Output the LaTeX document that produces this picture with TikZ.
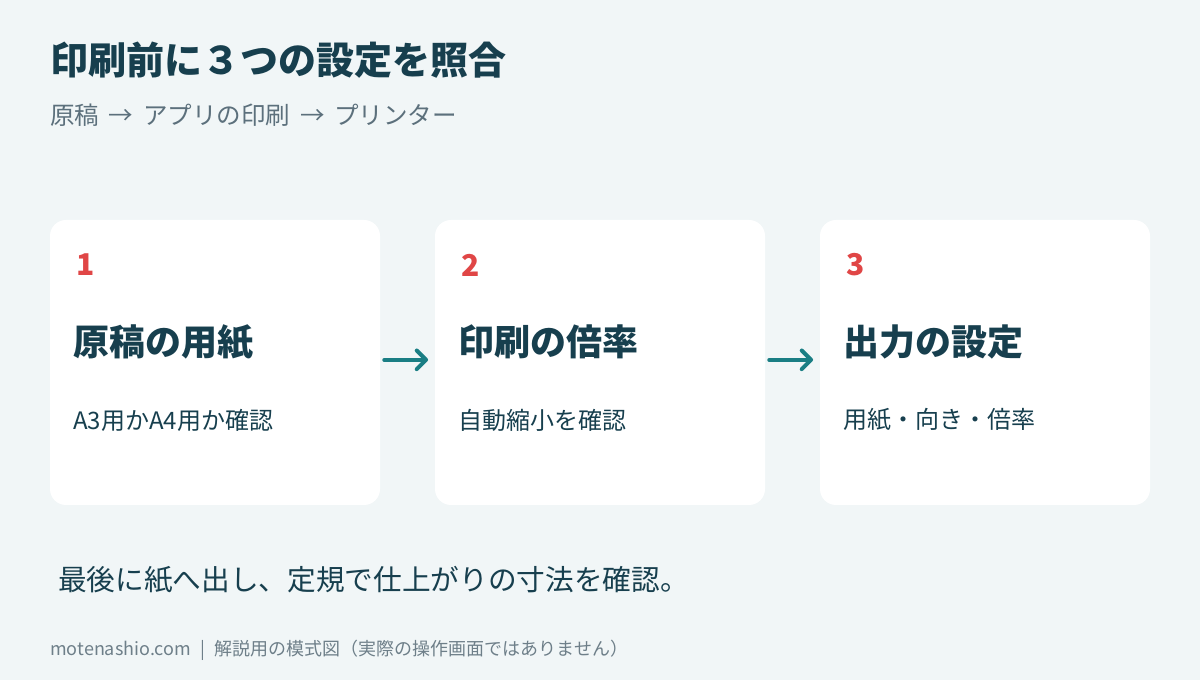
\documentclass[tikz,border=0pt]{standalone}
\usepackage{fontspec}
\setmainfont{Noto Sans CJK JP}
\usetikzlibrary{arrows.meta}

\definecolor{bgpaper}{HTML}{F1F6F7}
\definecolor{inkdark}{HTML}{173F4E}
\definecolor{inkgray}{HTML}{5C707C}
\definecolor{footgray}{HTML}{6E7F89}
\definecolor{numred}{HTML}{E04646}
\definecolor{flowteal}{HTML}{1A7E84}

\tikzset{
    card/.style={fill=white, rounded corners=12pt, minimum width=247.5pt, minimum height=213.75pt, inner sep=0pt},
    txt/.style={anchor=west, inner sep=0pt, text=inkdark},
    numlabel/.style={txt, text=numred, font=\bfseries\fontsize{22.5}{26}\selectfont},
    headlabel/.style={txt, font=\bfseries\fontsize{27}{31}\selectfont},
    desclabel/.style={txt, font=\fontsize{18}{22}\selectfont},
    flowarrow/.style={draw=flowteal, line width=3pt, line cap=round, -{Straight Barb[length=7pt, width=14pt, round]}, shorten <=3pt, shorten >=5pt}
}

\begin{document}
\begin{tikzpicture}[x=0.75pt, y=-0.75pt]
        \useasboundingbox[fill=bgpaper] (0,0) rectangle (1200,680);

        % title and subtitle
        \node[txt, font=\bfseries\fontsize{28.5}{33}\selectfont] (title) at (50,60) {印刷前に３つの設定を照合};
        \node[txt, text=inkgray, font=\fontsize{18.4}{22}\selectfont] (subtitle) at (50,115) {原稿\hspace{0.17em} → \hspace{0.17em}アプリの印刷\hspace{0.17em} → \hspace{0.17em}プリンター};

        % the three cards
        \foreach \i/\x/\head/\desc in {1/50/原稿の用紙/A3用かA4用か確認, 2/435/印刷の倍率/自動縮小を確認, 3/820/出力の設定/用紙・向き・倍率}
        {
            \node[card] (card\i) at (\x+165, 362.5) {};
            \node[numlabel] (num\i) at (\x+26, 265) {\i};
            \node[headlabel] (head\i) at (\x+23, 342) {\head};
            \node[desclabel] (desc\i) at (\x+23, 420) {\desc};
        }

        \draw[flowarrow] ([yshift=2pt]card1.east) -- ([yshift=2pt]card2.west);
        \draw[flowarrow] ([yshift=2pt]card2.east) -- ([yshift=2pt]card3.west);

        % bottom notes
        \node[txt, font=\fontsize{21.5}{25}\selectfont] (note) at (58,580) {最後に紙へ出し、定規で仕上がりの寸法を確認。};
        \node[txt, text=footgray, font=\fontsize{13.5}{16}\selectfont] (footer) at (50,650) {motenashio.com\hspace{0.3em} | \hspace{0.3em}解説用の模式図（実際の操作画面ではありません）};
    \end{tikzpicture}
\end{document}
